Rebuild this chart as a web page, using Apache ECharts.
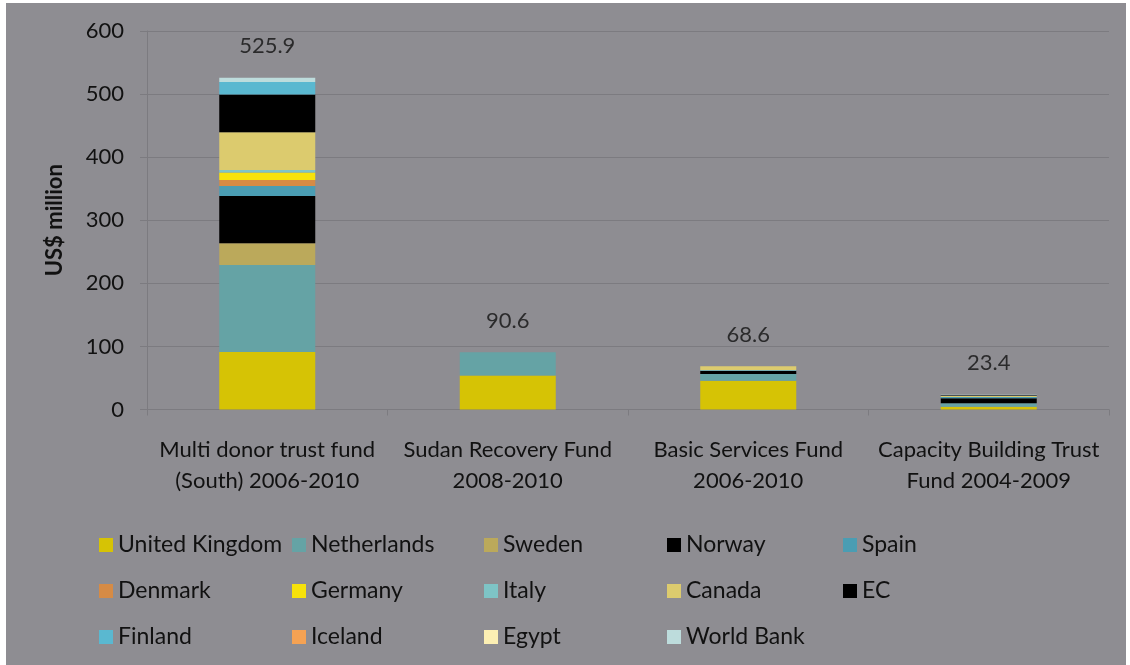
<!DOCTYPE html>
<html>
<head>
<meta charset="utf-8">
<script src="https://cdn.jsdelivr.net/npm/echarts@6/dist/echarts.min.js"></script>
<style>
  html, body { margin: 0; padding: 0; background: #ffffff; }
  #bg { position: absolute; left: 6px; top: 3px; width: 1120px; height: 662px; background: #8e8d92; }
  #chart { position: absolute; left: 0; top: 0; width: 1130px; height: 665px; }
</style>
</head>
<body>
<div id="bg"></div>
<div id="chart"></div>
<script>
const categories = [
  'Multi donor trust fund\n(South) 2006-2010',
  'Sudan Recovery Fund\n2008-2010',
  'Basic Services Fund\n2006-2010',
  'Capacity Building Trust\nFund 2004-2009'
];
const yTicks = { min: 0, max: 600, interval: 100 };

const unitedKingdom = [91.2, 54.0, 45.7, 4.4];
const netherlands   = [137.9, 36.6, 10.6, 5.5];
const sweden        = [34.4, 0, 0, 0];
const norway        = [75.0, 0, 5.2, 7.9];
const spain         = [15.9, 0, 0, 2.1];
const denmark       = [9.5, 0, 0, 0];
const germany       = [11.6, 0, 0, 0];
const italy         = [4.3, 0, 1.0, 0];
const canada        = [59.8, 0, 6.1, 1.5];
const ec            = [59.6, 0, 0, 1.0];
const finland       = [20.1, 0, 0, 0];
const iceland       = [0, 0, 0, 0];
const egypt         = [0, 0, 0, 0];
const worldBank     = [6.6, 0, 0, 1.0];
const totals        = [525.9, 90.6, 68.6, 23.4];

const donorNames = ['United Kingdom', 'Netherlands', 'Sweden', 'Norway', 'Spain',
  'Denmark', 'Germany', 'Italy', 'Canada', 'EC',
  'Finland', 'Iceland', 'Egypt', 'World Bank'];
const donorValues = [unitedKingdom, netherlands, sweden, norway, spain,
  denmark, germany, italy, canada, ec,
  finland, iceland, egypt, worldBank];
const donorColors = ['#d6c305', '#65a3a5', '#bba95b', '#000000', '#4a9db3',
  '#d68b45', '#f7e20b', '#7ec4c6', '#dccb6e', '#000000',
  '#5ab8d0', '#f5a253', '#fcefb3', '#bddcdc'];

const FONT = 'Lato, "Open Sans", sans-serif';
const TXT = '#111111';
const GRIDC = '#7c7b80';

const series = donorNames.map((n, i) => ({
  name: n,
  type: 'bar',
  stack: 'total',
  barWidth: 96,
  data: donorValues[i],
  itemStyle: { color: donorColors[i] },
  emphasis: { disabled: true }
}));
series.push({
  name: 'Total',
  type: 'scatter',
  data: totals,
  symbolSize: 1,
  itemStyle: { color: 'rgba(0,0,0,0)' },
  z: 10,
  label: {
    show: true, position: 'top', distance: 20,
    color: TXT, fontFamily: FONT, fontSize: 22,
    formatter: p => p.value.toFixed(1)
  }
});

const legendCols = [
  { left: 94,  data: ['United Kingdom', 'Denmark', 'Finland'] },
  { left: 287, data: ['Netherlands', 'Germany', 'Iceland'] },
  { left: 479, data: ['Sweden', 'Italy', 'Egypt'] },
  { left: 662, data: ['Norway', 'Canada', 'World Bank'] },
  { left: 838, data: ['Spain', 'EC'] }
];
const legends = legendCols.map(c => ({
  orient: 'vertical',
  left: c.left,
  top: 528,
  itemWidth: 14,
  itemHeight: 14,
  itemGap: 22,
  icon: 'rect',
  selectedMode: false,
  data: c.data,
  textStyle: { color: TXT, fontFamily: FONT, fontSize: 23, lineHeight: 24 }
}));

const chart = echarts.init(document.getElementById('chart'), null, { renderer: 'canvas' });
chart.setOption({
  backgroundColor: 'transparent',
  animation: false,
  grid: { left: 147, right: 21, top: 31, bottom: 255.5, containLabel: false },
  legend: legends,
  xAxis: {
    type: 'category',
    data: categories,
    axisLine: { lineStyle: { color: GRIDC, width: 1 } },
    axisTick: { show: true, length: 6, lineStyle: { color: GRIDC } },
    axisLabel: { color: TXT, fontFamily: FONT, fontSize: 22, lineHeight: 31, margin: 25, interval: 0 }
  },
  yAxis: {
    type: 'value',
    min: yTicks.min, max: yTicks.max, interval: yTicks.interval,
    name: 'US$ million',
    nameLocation: 'middle',
    nameGap: 81,
    nameTextStyle: { color: TXT, fontFamily: FONT, fontSize: 22, fontWeight: 'bold' },
    axisLine: { show: true, lineStyle: { color: GRIDC } },
    axisTick: { show: true, length: 7, lineStyle: { color: GRIDC } },
    axisLabel: { color: TXT, fontFamily: FONT, fontSize: 22, margin: 23 },
    splitLine: { lineStyle: { color: GRIDC, width: 1 } }
  },
  series: series
});
</script>
</body>
</html>
